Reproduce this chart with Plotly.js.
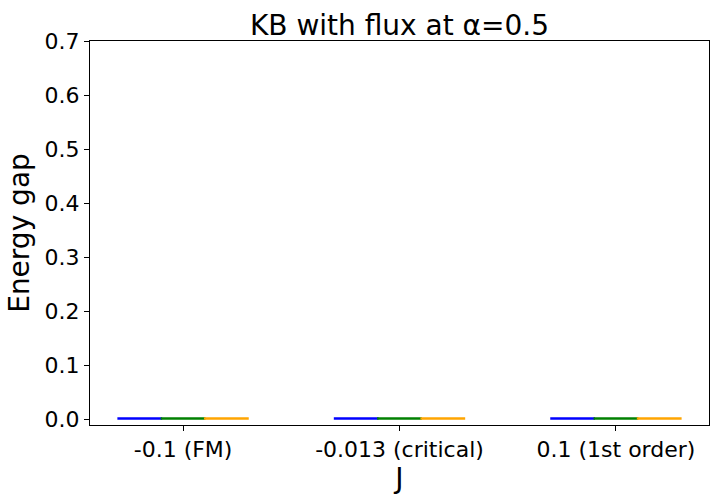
<!DOCTYPE html>
<html>
<head>
<meta charset="utf-8">
<script src="https://cdn.plot.ly/plotly-3.0.1.min.js"></script>
<style>
  body { margin: 0; background: #fff; }
  #chart { width: 718px; height: 501px; }
</style>
</head>
<body>
<div id="chart"></div>
<script>
// categories on the J axis
const categories = ['-0.1 (FM)', '-0.013 (critical)', '0.1 (1st order)'];

// three gap series, all close to zero
const gapBlue = [0.002, 0.002, 0.002];
const gapGreen = [0.002, 0.002, 0.002];
const gapOrange = [0.002, 0.002, 0.002];

const yTicks = [0, 0.1, 0.2, 0.3, 0.4, 0.5, 0.6, 0.7];

const mkBar = (vals, color, name) => ({
    type: 'bar',
    x: categories,
    y: vals,
    name: name,
    width: 0.2,
    marker: { color: color, line: { color: color, width: 1.5 } },
    hoverinfo: 'x+y'
});

const data = [
    mkBar(gapBlue, 'blue', 'gap 1'),
    mkBar(gapGreen, 'green', 'gap 2'),
    mkBar(gapOrange, 'orange', 'gap 3')
];

const layout = {
    width: 718,
    height: 501,
    paper_bgcolor: '#fff',
    plot_bgcolor: '#fff',
    font: { family: 'DejaVu Sans, sans-serif', color: '#000', size: 22 },
    showlegend: false,
    barmode: 'group',
    bargap: 0.4,
    bargroupgap: 0,
    margin: { l: 90, r: 9, t: 41, b: 76 },
    title: {
        text: 'KB with flux at α=0.5',
        font: { size: 28 },
        x: 0.5,
        xref: 'paper',
        xanchor: 'center',
        y: 1,
        yref: 'paper',
        yanchor: 'bottom',
        pad: { b: 6 }
    },
    xaxis: {
        type: 'category',
        range: [-0.43, 2.43],
        showline: true,
        linecolor: '#000',
        linewidth: 1,
        mirror: true,
        ticks: 'outside',
        ticklen: 5,
        tickcolor: '#000',
        showgrid: false,
        zeroline: false,
        tickfont: { size: 22 },
        title: { text: 'J', font: { size: 28 }, standoff: 4 }
    },
    yaxis: {
        range: [-0.011, 0.7],
        tickvals: yTicks,
        ticktext: yTicks.map(v => v.toFixed(1)),
        showline: true,
        linecolor: '#000',
        linewidth: 1,
        mirror: true,
        ticks: 'outside',
        ticklen: 5,
        tickcolor: '#000',
        showgrid: false,
        zeroline: false,
        tickfont: { size: 22 },
        title: { text: 'Energy gap', font: { size: 28 }, standoff: 6 }
    }
};

Plotly.newPlot('chart', data, layout, { displayModeBar: false, staticPlot: true });
</script>
</body>
</html>
